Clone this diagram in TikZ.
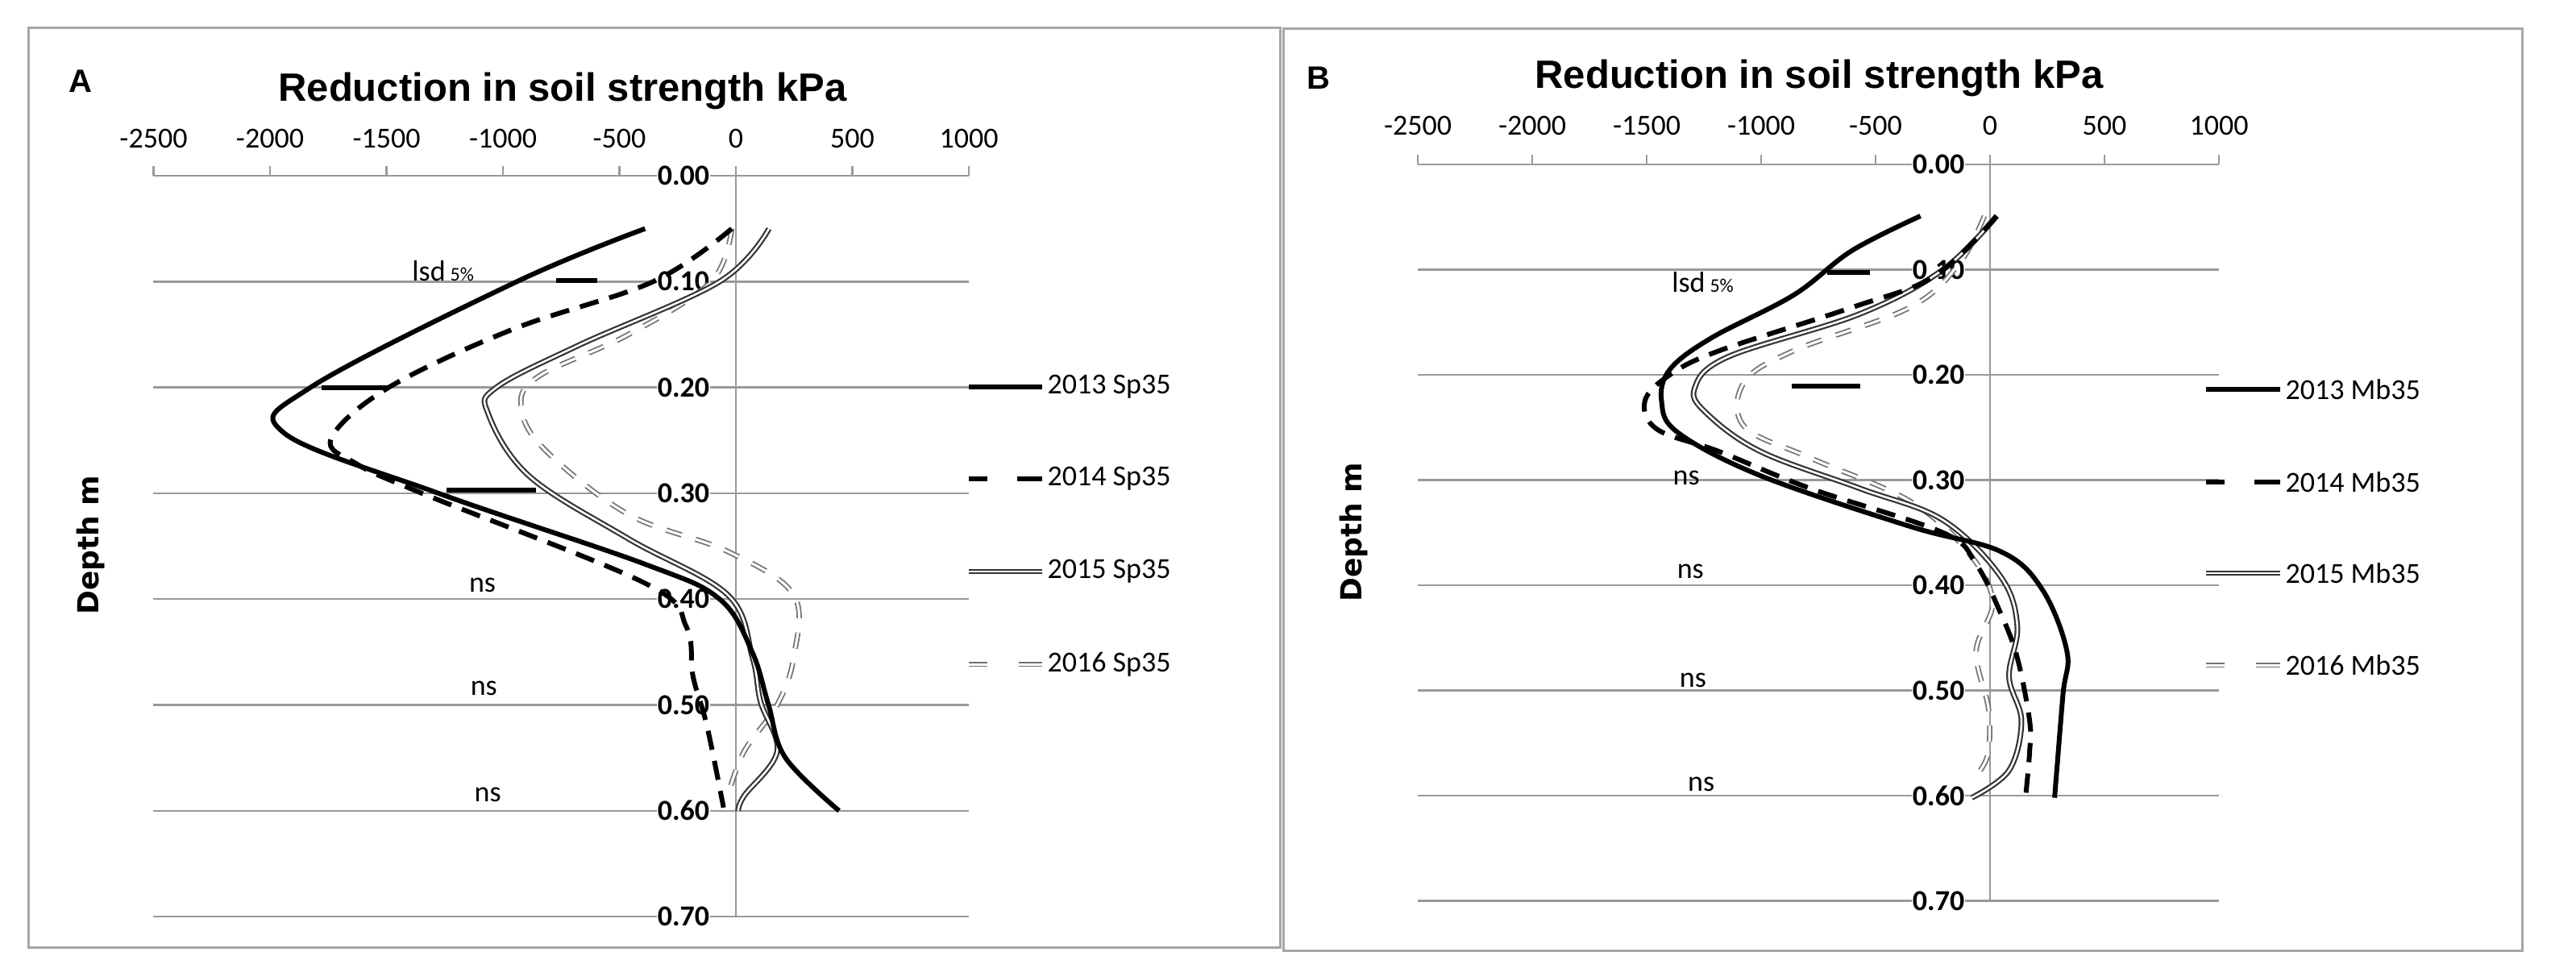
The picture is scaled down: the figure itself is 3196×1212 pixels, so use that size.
\documentclass[tikz,border=0pt]{standalone}
\usepackage{fontspec}
\setmainfont{Carlito}
\newfontfamily\arialf{Liberation Sans}
\newfontfamily\dejaf{DejaVu Sans}
\begin{document}
\begin{tikzpicture}[x=1pt,y=-1pt,
  grid/.style={draw=gray!80, line width=2.5pt},
  frame/.style={draw=gray!70, line width=3pt},
  tick/.style={font=\fontsize{36}{36}\selectfont},
  dep/.style={font=\fontsize{36}{36}\selectfont\bfseries, fill=white, inner sep=1pt},
  lbl/.style={font=\fontsize{36}{36}\selectfont},
  titl/.style={font=\arialf\bfseries\fontsize{49}{49}\selectfont},
  pan/.style={font=\arialf\bfseries\fontsize{40}{40}\selectfont},
  ylab/.style={font=\dejaf\bfseries\fontsize{36}{36}\selectfont, rotate=90},
  c13/.style={line width=6pt, line join=round},
  c14/.style={line width=6pt, dash pattern=on 24pt off 14pt},
  c15/.style={draw=black!80, line width=2.2pt, double=white, double distance=2.5pt},
  c16/.style={draw=black!55, line width=1.8pt, double=white, double distance=3pt, dash pattern=on 20pt off 18pt},
  lsdbar/.style={line width=6pt}
]
\useasboundingbox (0,0) rectangle (3196,1212);
\fill[white] (0,0) rectangle (3196,1212);
\draw[frame] (35,35) rectangle (1588,1175);
\draw[frame] (1592,36) rectangle (3129,1179);
% ================= Panel A =================
\node[pan] (pA) at (100,101) {A};
\node[titl] (tA) at (698,113) {Reduction in soil strength kPa};
\node[ylab] (yA) at (113,676) {Depth m};
\begin{scope}[shift={(913,218)}, x=0.289pt, y=-1313pt]
  \draw[grid] (-2500,0) -- (1000,0);
  \foreach \v in {-2500,-2000,...,1000}{
    \draw[grid] (\v,0) -- ++(0,-0.009);
    \node[tick] at (\v,-0.035) {\v};}
  \foreach \d in {0.1,0.2,...,0.71}{\draw[grid] (-2500,\d) -- (1000,\d);}
  \draw[draw=gray!80, line width=2pt] (0,0) -- (0,0.70);
  \foreach \d/\t in {0/0.00,0.1/0.10,0.2/0.20,0.3/0.30,0.4/0.40,0.5/0.50,0.6/0.60,0.7/0.70}
    \node[dep] at (-225,\d) {\t};
  \draw[c16] plot[smooth, tension=0.6] coordinates {(-18,0.05) (-106,0.10) (-461,0.15) (-850,0.19) (-921,0.22) (-815,0.26) (-461,0.32) (-35,0.355) (248,0.396) (248,0.455) (177,0.50) (35,0.544) (-35,0.586)};
  \draw[c15] plot[smooth, tension=0.6] coordinates {(142,0.05) (-70,0.10) (-673,0.16) (-1028,0.20) (-1063,0.225) (-886,0.284) (-461,0.343) (-35,0.396) (71,0.455) (106,0.497) (177,0.544) (35,0.586) (10,0.60)};
  \draw[c14] plot[smooth, tension=0.6] coordinates {(-18,0.05) (-355,0.10) (-957,0.145) (-1490,0.20) (-1737,0.248) (-1630,0.272) (-1348,0.30) (-390,0.385) (-213,0.426) (-184,0.473) (-124,0.52) (-53,0.597)};
  \draw[c13] plot[smooth, tension=0.6] coordinates {(-390,0.05) (-940,0.10) (-1826,0.20) (-1940,0.243) (-1277,0.30) (-390,0.367) (-70,0.40) (70,0.45) (140,0.50) (213,0.55) (443,0.60)};
  \draw[lsdbar] (-773,0.099) -- (-596,0.099);
  \draw[lsdbar] (-1780,0.20) -- (-1496,0.20);
  \draw[lsdbar] (-1241,0.297) -- (-858,0.297);
  \node[lbl] at (-1257,0.09) {lsd\,{\fontsize{24}{24}\selectfont 5\%}};
  \node[lbl] at (-1088,0.387) {ns};
  \node[lbl] at (-1082,0.484) {ns};
  \node[lbl] at (-1065,0.585) {ns};
\end{scope}
% legend A
\draw[c13] (1202,480) -- (1293,480); \node[lbl, anchor=west] (lA1) at (1296,480) {2013 Sp35};
\draw[line width=6pt] (1202,594) -- (1225,594) (1262,594) -- (1293,594); \node[lbl, anchor=west] (lA2) at (1296,594) {2014 Sp35};
\draw[c15] (1202,709) -- (1293,709); \node[lbl, anchor=west] (lA3) at (1296,709) {2015 Sp35};
\draw[draw=black!55, line width=1.8pt, double=white, double distance=3pt] (1202,824) -- (1225,824) (1264,824) -- (1293,824);
\node[lbl, anchor=west] (lA4) at (1296,824) {2016 Sp35};
% ================= Panel B =================
\node[pan] (pB) at (1636,97) {B};
\node[titl] (tB) at (2257,97) {Reduction in soil strength kPa};
\node[ylab] (yB) at (1680,660) {Depth m};
\begin{scope}[shift={(2469,204)}, x=0.284pt, y=-1305pt]
  \draw[grid] (-2500,0) -- (1000,0);
  \foreach \v in {-2500,-2000,...,1000}{
    \draw[grid] (\v,0) -- ++(0,-0.009);
    \node[tick] at (\v,-0.037) {\v};}
  \foreach \d in {0.1,0.2,...,0.71}{\draw[grid] (-2500,\d) -- (1000,\d);}
  \draw[draw=gray!80, line width=2pt] (0,0) -- (0,0.70);
  \foreach \d/\t in {0/0.00,0.1/0.10,0.2/0.20,0.3/0.30,0.4/0.40,0.5/0.50,0.6/0.60,0.7/0.70}
    \node[dep] at (-225,\d) {\t};
  \draw[c16] plot[smooth, tension=0.6] coordinates {(-25,0.049) (-134,0.094) (-351,0.136) (-857,0.177) (-1074,0.207) (-1074,0.249) (-785,0.279) (-351,0.32) (-98,0.368) (11,0.415) (-61,0.463) (-7,0.517) (-7,0.558) (-43,0.576)};
  \draw[c15] plot[smooth, tension=0.6] coordinates {(29,0.049) (-206,0.10) (-568,0.142) (-1146,0.183) (-1291,0.213) (-1236,0.237) (-1001,0.273) (-568,0.308) (-206,0.338) (47,0.392) (119,0.439) (83,0.487) (137,0.529) (83,0.576) (-80,0.602)};
  \draw[c14] plot[smooth, tension=0.6] coordinates {(29,0.049) (-242,0.106) (-604,0.136) (-1182,0.177) (-1399,0.20) (-1508,0.225) (-1453,0.252) (-1182,0.273) (-785,0.308) (-206,0.35) (-61,0.38) (47,0.427) (119,0.469) (173,0.529) (173,0.558) (155,0.602)};
  \draw[c13] plot[smooth, tension=0.6] coordinates {(-304,0.049) (-604,0.082) (-857,0.124) (-1218,0.165) (-1399,0.195) (-1435,0.225) (-1363,0.255) (-1001,0.296) (-351,0.344) (47,0.368) (228,0.404) (336,0.463) (318,0.505) (282,0.602)};
  \draw[lsdbar] (-712,0.103) -- (-524,0.103);
  \draw[lsdbar] (-868,0.211) -- (-568,0.211);
  \node[lbl] at (-1255,0.112) {lsd\,{\fontsize{24}{24}\selectfont 5\%}};
  \node[lbl] at (-1327,0.298) {ns};
  \node[lbl] at (-1309,0.387) {ns};
  \node[lbl] at (-1298,0.49) {ns};
  \node[lbl] at (-1262,0.589) {ns};
\end{scope}
% legend B
\draw[c13] (2737,483) -- (2829,483); \node[lbl, anchor=west] (lB1) at (2832,483) {2013 Mb35};
\draw[line width=6pt] (2737,598) -- (2760,598) (2797,598) -- (2829,598); \node[lbl, anchor=west] (lB2) at (2832,598) {2014 Mb35};
\draw[c15] (2737,711) -- (2829,711); \node[lbl, anchor=west] (lB3) at (2832,711) {2015 Mb35};
\draw[draw=black!55, line width=1.8pt, double=white, double distance=3pt] (2737,825) -- (2760,825) (2799,825) -- (2829,825);
\node[lbl, anchor=west] (lB4) at (2832,825) {2016 Mb35};
\end{tikzpicture}
\end{document}
